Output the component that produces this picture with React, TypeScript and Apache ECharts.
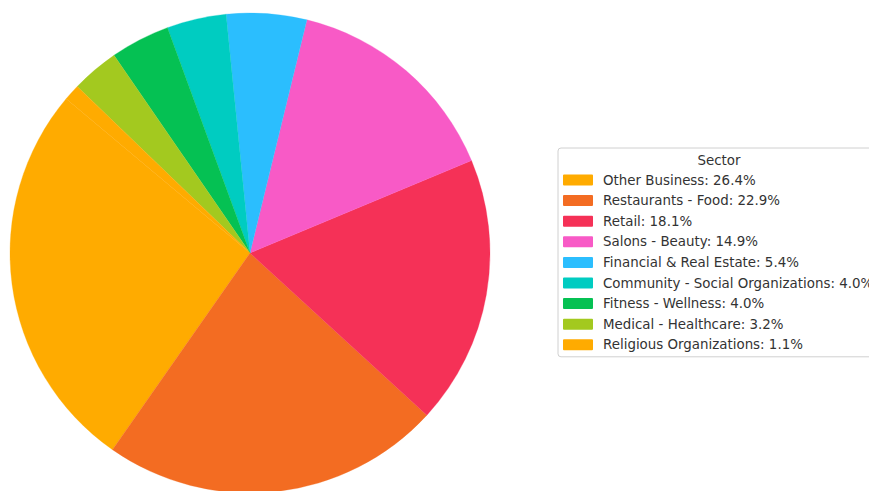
import React, { useEffect, useRef } from "react";
import * as echarts from "echarts";

const sectors = [
  "Other Business",
  "Restaurants - Food",
  "Retail",
  "Salons - Beauty",
  "Financial & Real Estate",
  "Community - Social Organizations",
  "Fitness - Wellness",
  "Medical - Healthcare",
  "Religious Organizations",
];
const shares = [26.4, 22.9, 18.1, 14.9, 5.4, 4.0, 4.0, 3.2, 1.1];
const colors = [
  "#FFAB00",
  "#F36C22",
  "#F53157",
  "#F85AC6",
  "#2BBEFE",
  "#00CCC1",
  "#05C153",
  "#A3C91F",
  "#FFAB00",
];
const legendTitle = "Sector";

export default function App() {
  const ref = useRef<HTMLDivElement>(null);
  useEffect(() => {
    if (!ref.current) return;
    const chart = echarts.init(ref.current, null, { renderer: "svg" });
    const data = sectors.map((name, i) => ({
      name,
      value: shares[i],
      itemStyle: { color: colors[i], borderColor: colors[i], borderWidth: 0.3 },
    }));
    chart.setOption({
      animation: false,
      backgroundColor: "#ffffff",
      legend: {
        orient: "vertical",
        left: 558,
        top: 148,
        data: sectors,
        itemWidth: 28,
        itemHeight: 9,
        itemGap: 6.6,
        icon: "rect",
        padding: [25, 12, 5, 5],
        borderColor: "#d0d0d0",
        borderWidth: 1,
        borderRadius: 3,
        selectedMode: false,
        textStyle: {
          fontFamily: "DejaVu Sans",
          fontSize: 13.4,
          lineHeight: 14,
          color: "#333333",
          padding: [0, 0, 0, 6],
        },
        formatter: (name: string) => {
          const i = sectors.indexOf(name);
          return `${name}: ${shares[i].toFixed(1)}%`;
        },
      },
      graphic: [
        {
          type: "text",
          x: 719,
          y: 160,
          style: {
            text: legendTitle,
            fontFamily: "DejaVu Sans",
            fontSize: 13.4,
            fill: "#333333",
            textAlign: "center",
            textVerticalAlign: "middle",
          },
        },
      ],
      series: [
        {
          type: "pie",
          center: [250, 253],
          radius: 240,
          startAngle: 140,
          clockwise: false,
          label: { show: false },
          labelLine: { show: false },
          emphasis: { disabled: true },
          data,
        },
      ],
    });
    return () => chart.dispose();
  }, []);
  return <div ref={ref} style={{ width: 869, height: 491, position: "fixed", left: 0, top: 0 }} />;
}
